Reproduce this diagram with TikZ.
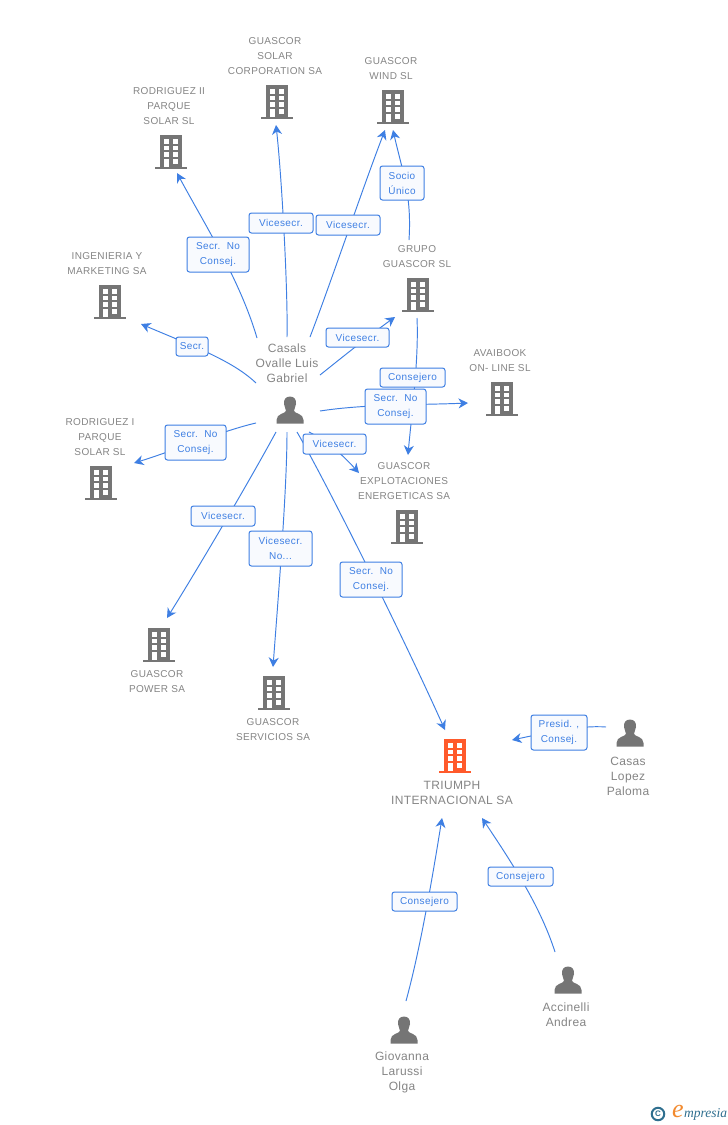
\documentclass[tikz,border=0pt]{standalone}
\usepackage{fontspec}
\setmainfont{Liberation Sans}
\newfontfamily\spaced[LetterSpace=4]{Liberation Sans}
\newfontfamily\spacedo[LetterSpace=3.5]{Liberation Sans}
\newfontfamily\spacedp[LetterSpace=3]{Liberation Sans}
\newfontfamily\logofont{Liberation Serif}
\usetikzlibrary{arrows.meta,calc}
\definecolor{iconGrey}{HTML}{757575}
\definecolor{textGrey}{HTML}{858585}
\definecolor{linkBlue}{HTML}{3E7FE3}
\definecolor{boxFill}{HTML}{F8FAFE}
\definecolor{orangeB}{HTML}{FF5A2B}
\definecolor{logoTeal}{HTML}{2F6F8F}
\definecolor{logoOrange}{HTML}{F28A2E}
\tikzset{
  anchorbox/.style={inner sep=0pt,minimum width=32pt,minimum height=34pt},
  conn/.style={draw=linkBlue,line width=0.95pt,-{Stealth[length=9.5pt,width=10pt,inset=3pt]}},
  linkbox/.style={draw=linkBlue,fill=boxFill,line width=1pt,rounded corners=2.5pt,inner sep=0pt,
    text=linkBlue,font=\fontsize{10}{15}\selectfont\spaced,align=center,anchor=center},
  orgname/.style={text=textGrey,font=\fontsize{10}{15}\selectfont\spacedo,align=center,inner sep=0pt},
  bigname/.style={text=textGrey,font=\fontsize{12}{15}\selectfont\spacedp,align=center,inner sep=0pt},
}
% building: name, x, y (centre), colour
\newcommand{\bldg}[4]{%
  \node[anchorbox] (#1) at (#2,#3) {};
  \begin{scope}[shift={(#1.center)}]
    \fill[#4] (-11,-17) rectangle (11,15);
    \fill[#4] (-16,14.5) rectangle (16,17);
    \foreach \yy in {-13,-6.5,0}{
      \fill[white] (-7.5,\yy) rectangle (-2.5,{\yy+4.5});
      \fill[white] (2,\yy) rectangle (7,{\yy+4.5});
    }
    \fill[white] (-7.5,7) rectangle (-2.5,15);
    \fill[white] (2,7) rectangle (7,11.5);
  \end{scope}
}
% person: name, x, y (centre), colour
\newcommand{\persona}[3]{%
  \node[inner sep=0pt,minimum width=28pt,minimum height=28pt] (#1) at (#2,#3) {};
  \begin{scope}[shift={(#1.center)}]
    \fill[iconGrey] (0,-13.5) .. controls (4.5,-13.5) and (6.5,-10) .. (6,-6)
      .. controls (5.5,-2.5) and (4,-1) .. (4,1)
      .. controls (4.5,3.5) and (13.5,3.5) .. (13.5,10)
      -- (13.5,13.5) -- (-13.5,13.5) -- (-13.5,10)
      .. controls (-13.5,3.5) and (-4.5,3.5) .. (-4,1)
      .. controls (-4,-1) and (-5.5,-2.5) .. (-6,-6)
      .. controls (-6.5,-10) and (-4.5,-13.5) .. (0,-13.5) -- cycle;
  \end{scope}
}
% connector: from-node, shift, ctrl1, ctrl2, to-node, shift
\newcommand{\conn}[6]{%
  \draw[conn] ([shift={(#2)}]#1.center) .. controls +(#3) and +(#4) .. ([shift={(#6)}]#5.center);
}
% link box: name, left, top, right, bottom, text
\newcommand{\lbox}[6]{%
  \node[linkbox,minimum width={(#4-#2)*1pt},minimum height={(#5-#3)*1pt}] (#1) at ({(#2+#4)/2},{(#3+#5)/2}) {#6};
}
\begin{document}
\begin{tikzpicture}[x=1pt,y=-1pt]
\useasboundingbox[fill=white] (0,0) rectangle (728,1125);
% buildings
\bldg{solar}{277}{102}{iconGrey}
\bldg{wind}{393}{107}{iconGrey}
\bldg{rodii}{171}{152}{iconGrey}
\bldg{inge}{110}{302}{iconGrey}
\bldg{grupo}{418}{295}{iconGrey}
\bldg{avai}{502}{399}{iconGrey}
\bldg{rodi}{101}{483}{iconGrey}
\bldg{expl}{407}{527}{iconGrey}
\bldg{power}{159}{645}{iconGrey}
\bldg{serv}{274}{693}{iconGrey}
\bldg{triumph}{455}{756}{orangeB}
% people
\persona{casals}{290}{410}
\persona{lopez}{630}{733}
\persona{accin}{568}{980}
\persona{giov}{404}{1030}
% names
\node[orgname] (nsolar) at (275,56) {GUASCOR\\SOLAR\\CORPORATION SA};
\node[orgname] (nwind) at (391,68.5) {GUASCOR\\WIND SL};
\node[orgname] (nrodii) at (169,106) {RODRIGUEZ II\\PARQUE\\SOLAR SL};
\node[orgname] (ninge) at (107,263.5) {INGENIERIA Y\\MARKETING SA};
\node[orgname] (ngrupo) at (417,256.5) {GRUPO\\GUASCOR SL};
\node[orgname] (navai) at (500,360.5) {AVAIBOOK\\ON- LINE SL};
\node[orgname] (nrodi) at (100,437) {RODRIGUEZ I\\PARQUE\\SOLAR SL};
\node[orgname] (nexpl) at (404,481) {GUASCOR\\EXPLOTACIONES\\ENERGETICAS SA};
\node[orgname] (npower) at (157,681.5) {GUASCOR\\POWER SA};
\node[orgname] (nserv) at (273,729.5) {GUASCOR\\SERVICIOS SA};
\node[bigname] (ntriumph) at (452,792.5) {TRIUMPH\\INTERNACIONAL SA};
\node[bigname] (ncasals) at (287,363) {Casals\\Ovalle Luis\\Gabriel};
\node[bigname] (nlopez) at (628,776) {Casas\\Lopez\\Paloma};
\node[bigname] (naccin) at (566,1014.5) {Accinelli\\Andrea};
\node[bigname] (ngiov) at (402,1072) {Giovanna\\Larussi\\Olga};
% connectors
\conn{casals}{-3,-73}{1,-45}{6,55}{solar}{-1,23}
\conn{casals}{20,-73}{20,-52}{-23,60}{wind}{-8,23}
\conn{grupo}{-9,-55}{3,-45}{9,40}{wind}{0,23}
\conn{casals}{-33,-72}{-17,-58}{28,52}{rodii}{6,21}
\conn{casals}{-34,-27}{-24,-23}{49,21}{inge}{31,22}
\conn{casals}{30,-35}{25,-20}{-25,18}{grupo}{-23,22}
\conn{grupo}{-1,23}{2,42}{3,-35}{expl}{1,-72}
\conn{casals}{30,1}{45,-7}{-48,2}{avai}{-34,4}
\conn{casals}{-34,13}{-31,7}{36,-11}{rodi}{33,-20}
\conn{casals}{19,22}{16,8}{-19,-21}{expl}{-48,-54}
\conn{casals}{-14,22}{-26,48}{33,-53}{power}{8,-27}
\conn{casals}{-3,22}{0,58}{5,-67}{serv}{-1,-26}
\conn{casals}{7,22}{28,48}{-45,-100}{triumph}{-10,-26}
\conn{lopez}{-24,-6}{-26,-2}{33,-7}{triumph}{57,-16}
\conn{giov}{2,-29}{14,-51}{-10,62}{triumph}{-13,62}
\conn{accin}{-13,-28}{-15,-47}{28,42}{triumph}{27,62}
% link boxes
\lbox{l1}{249}{213}{313}{233}{Vicesecr.}
\lbox{l2}{316}{215}{380}{235}{Vicesecr.}
\lbox{l3}{380}{166}{424}{200}{Socio\\Único}
\lbox{l4}{187}{237}{249}{272}{Secr.\ \ No\\Consej.}
\lbox{l5}{176}{337}{208}{356}{Secr.}
\lbox{l6}{326}{328}{389}{347}{Vicesecr.}
\lbox{l7}{380}{368}{445}{387}{Consejero}
\lbox{l8}{365}{389}{426}{424}{Secr.\ \ No\\Consej.}
\lbox{l9}{303}{434}{366}{454}{Vicesecr.}
\lbox{l10}{165}{425}{226}{460}{Secr.\ \ No\\Consej.}
\lbox{l11}{191}{506}{255}{526}{Vicesecr.}
\lbox{l12}{249}{531}{312}{566}{Vicesecr.\\No...}
\lbox{l13}{340}{562}{402}{597}{Secr.\ \ No\\Consej.}
\lbox{l14}{531}{715}{587}{750}{Presid. ,\\Consej.}
\lbox{l15}{488}{867}{553}{886}{Consejero}
\lbox{l16}{392}{892}{457}{911}{Consejero}
% logo
\node[circle,draw=logoTeal,line width=2pt,inner sep=0pt,minimum size=12.5pt,text=logoTeal,font=\fontsize{8}{8}\selectfont\bfseries] (logoc) at (658,1114) {C};
\node[inner sep=0pt,text=logoOrange,font=\fontsize{26}{26}\selectfont\logofont\itshape] (logoe) at (678,1111) {e};
\node[inner sep=0pt,anchor=west,text=logoTeal,font=\fontsize{13.5}{13.5}\selectfont\logofont\itshape] (logot) at (684,1114.5) {mpresia};
\end{tikzpicture}
\end{document}
